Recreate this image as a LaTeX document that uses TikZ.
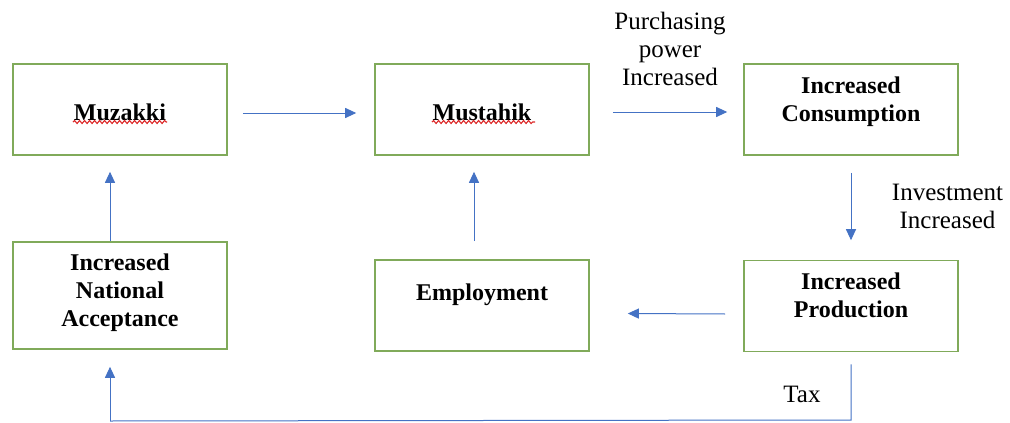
\documentclass[tikz,border=0pt]{standalone}
\usepackage{fontspec}
\setmainfont{Liberation Serif}
\usetikzlibrary{arrows.meta,decorations.pathmorphing}
\definecolor{boxgreen}{RGB}{128,170,90}
\definecolor{arrowblue}{RGB}{68,114,196}
\definecolor{spellred}{RGB}{220,40,40}
\tikzset{
  box/.style={draw=boxgreen, line width=1.6pt, minimum width=214pt, minimum height=91pt, inner sep=0pt},
  boxtext/.style={font=\fontsize{24}{28}\selectfont\bfseries, align=center, inner sep=0pt},
  lbl/.style={font=\fontsize{25}{28}\selectfont, align=center, inner sep=0pt},
  conn/.style={draw=arrowblue, line width=1pt, -{Triangle[width=10pt,length=11pt]}},
  plainline/.style={draw=arrowblue, line width=1pt},
  wavy/.style={draw=spellred, line width=1.1pt, decorate, decoration={snake, amplitude=1.5pt, segment length=5pt}}
}
\begin{document}
\begin{tikzpicture}[x=1pt,y=-1pt]
\useasboundingbox (0,0) rectangle (1010,423);
% boxes
\node[box] (muz) at (120,109.5) {};
\node[box] (mus) at (482,109.5) {};
\node[box] (con) at (851,109.5) {};
\node[box, minimum height=107pt] (acc) at (120,295.5) {};
\node[box] (emp) at (482,305.5) {};
\node[box] (pro) at (851,306) {};
% texts
\node[boxtext] (muzt) at (120,112.5) {Muzakki};
\node[boxtext] (must) at (482,112.5) {Mustahik};
\node[boxtext] (cont) at (851,102) {Increased\\Consumption};
\node[boxtext] (acct) at (120,293) {Increased\\National\\Acceptance};
\node[boxtext] (empt) at (482,295) {Employment};
\node[boxtext] (prot) at (851,295.5) {Increased\\Production};
% spell-check underlines
\coordinate (w1a) at (73,122); \coordinate (w1b) at (167,122);
\coordinate (w2a) at (432,122); \coordinate (w2b) at (535,122);
\draw[wavy] (w1a) -- (w1b);
\draw[wavy] (w2a) -- (w2b);
% labels
\node[lbl] (pp) at (670,49) {Purchasing\\power\\Increased};
\node[lbl] (inv) at (947.5,206) {Investment\\Increased};
\node[lbl] (tax) at (802,394) {Tax};
% connectors
\draw[conn] ([xshift=15pt,yshift=-3.5pt]muz.east) -- ([xshift=-18pt,yshift=-3.5pt]mus.west);
\draw[conn] ([xshift=23pt,yshift=-2.5pt]mus.east) -- ([xshift=-16pt,yshift=-2.5pt]con.west);
\draw[conn] ([yshift=-17pt]con.south) -- ([yshift=19.5pt]pro.north);
\draw[conn] ([xshift=-18pt,yshift=-8pt]pro.west) -- ([xshift=38pt,yshift=-8pt]emp.east);
\draw[conn] ([xshift=-8pt,yshift=18pt]emp.north) -- ([xshift=-8pt,yshift=-16pt]mus.south);
\draw[conn] ([xshift=-10pt]acc.north) -- ([xshift=-10pt,yshift=-16pt]muz.south);
\coordinate (t1) at (851,420);
\coordinate (t2) at (110,421);
\draw[plainline] ([yshift=-12pt]pro.south) -- (t1) -- (t2);
\draw[conn] (t2) -- ([xshift=-10pt,yshift=-17pt]acc.south);
\end{tikzpicture}
\end{document}
